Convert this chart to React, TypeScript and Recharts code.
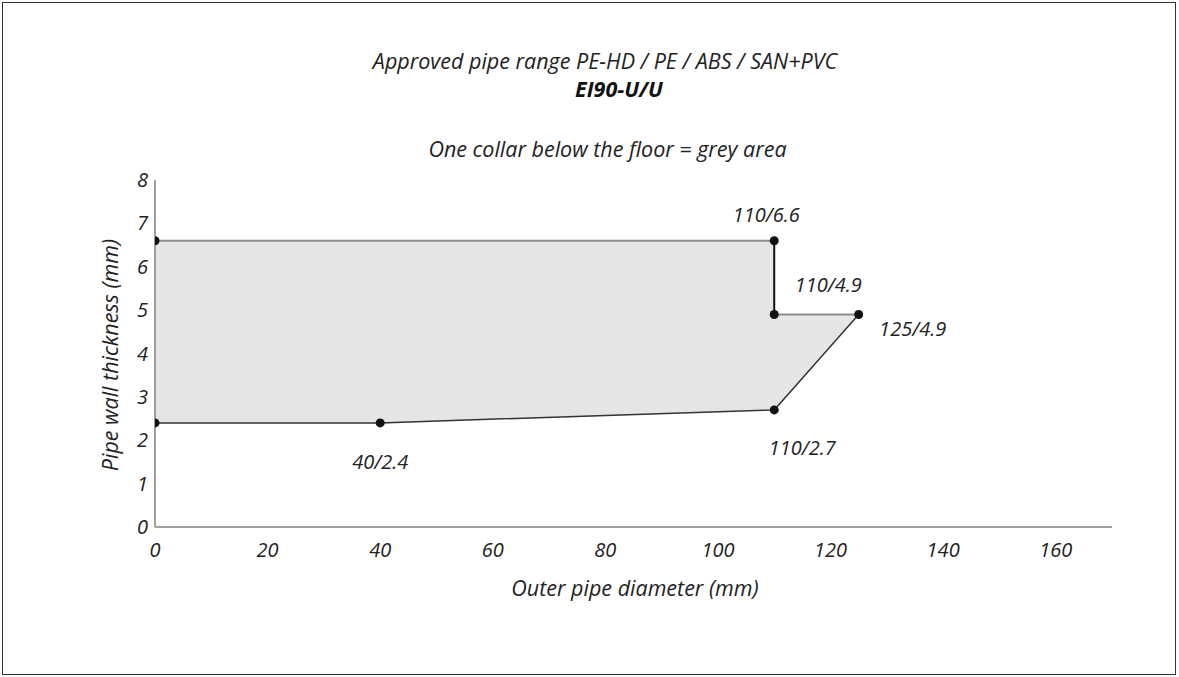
import React from "react";
import { ComposedChart, Area, Scatter, XAxis, YAxis } from "recharts";

// Area outline (outer diameter, low/high wall thickness)
const areaX = [0, 40, 110, 110, 125];
const areaLow = [2.4, 2.4, 2.7, 2.7, 4.9];
const areaHigh = [6.6, 6.6, 6.6, 4.9, 4.9];

// Marked points
const pointX = [0, 0, 40, 110, 110, 125, 110];
const pointY = [6.6, 2.4, 2.4, 2.7, 4.9, 4.9, 6.6];
const pointLabels = ["", "", "40/2.4", "110/2.7", "110/4.9", "125/4.9", "110/6.6"];

// Edges
const greyTopX = [0, 110];
const greyTopY = [6.6, 6.6];
const greyStepX = [110, 125];
const greyStepY = [4.9, 4.9];
const darkVertX = [110, 110];
const darkVertY = [6.6, 4.9];
const darkBottomX = [125, 110, 40, 0];
const darkBottomY = [4.9, 2.7, 2.4, 2.4];

const xTicks = [0, 20, 40, 60, 80, 100, 120, 140, 160];
const yTicks = [0, 1, 2, 3, 4, 5, 6, 7, 8];

const areaData = areaX.map((x, i) => ({ x, range: [areaLow[i], areaHigh[i]] }));
const pointData = pointX.map((x, i) => ({ x, y: pointY[i], label: pointLabels[i] }));
const toPts = (xs: number[], ys: number[]) => xs.map((x, i) => ({ x, y: ys[i] }));

const FONT = "'Open Sans', 'Noto Sans', sans-serif";

const labelOffset: Record<string, [number, number]> = {
  "110/6.6": [-8, -19],
  "110/4.9": [54, -22],
  "125/4.9": [54, 22],
  "110/2.7": [28, 45],
  "40/2.4": [0, 46],
};

const Dot = (props: any) => {
  const { cx, cy, payload } = props;
  const off = labelOffset[payload.label];
  return (
    <g>
      <circle cx={cx} cy={cy} r={4.5} fill="#111" />
      {off && (
        <text
          x={cx + off[0]}
          y={cy + off[1]}
          textAnchor="middle"
          fontFamily={FONT}
          fontStyle="italic"
          fontSize={20}
          fill="#222"
        >
          {payload.label}
        </text>
      )}
    </g>
  );
};

const NoDot = () => <g />;

const txt: React.CSSProperties = {
  position: "absolute",
  left: 0,
  textAlign: "center",
  fontSize: 21.5,
  fontStyle: "italic",
  color: "#222",
  lineHeight: "28px",
};

export default function App() {
  return (
    <div
      style={{
        position: "absolute",
        left: 0,
        top: 0,
        width: 1179,
        height: 677,
        background: "#fff",
        fontFamily: FONT,
      }}
    >
      <div
        style={{
          position: "absolute",
          left: 2,
          top: 2,
          width: 1172,
          height: 671,
          border: "1.5px solid #333",
        }}
      />
      <div style={{ ...txt, width: 1210, top: 47 }}>
        Approved pipe range PE-HD / PE / ABS / SAN+PVC
      </div>
      <div style={{ ...txt, width: 1238, top: 75, fontWeight: 700, color: "#111" }}>
        EI90-U/U
      </div>
      <div style={{ ...txt, width: 1215, top: 135 }}>
        One collar below the floor = grey area
      </div>
      <div style={{ ...txt, width: 1270, top: 574 }}>
        Outer pipe diameter (mm)
      </div>
      <div
        style={{
          position: "absolute",
          left: 110,
          top: 355,
          transform: "translate(-50%, -50%) rotate(-90deg)",
          whiteSpace: "nowrap",
          fontSize: 21.5,
          fontStyle: "italic",
          color: "#222",
          lineHeight: "28px",
        }}
      >
        Pipe wall thickness (mm)
      </div>
      <div style={{ position: "absolute", left: 0, top: 0 }}>
        <ComposedChart
          width={1179}
          height={677}
          data={areaData}
          margin={{ top: 180, left: 95, right: 67, bottom: 120 }}
        >
          <XAxis
            type="number"
            dataKey="x"
            domain={[0, 170]}
            ticks={xTicks}
            interval={0}
            tickLine={false}
            tickSize={0}
            axisLine={{ stroke: "#a0a0a0", strokeWidth: 2 }}
            height={30}
            tickMargin={16}
            tick={{ fontFamily: FONT, fontStyle: "italic", fontSize: 20, fill: "#222" }}
            allowDataOverflow
          />
          <YAxis
            type="number"
            dataKey="y"
            domain={[0, 8]}
            ticks={yTicks}
            interval={0}
            tickLine={false}
            tickSize={0}
            axisLine={{ stroke: "#a0a0a0", strokeWidth: 2 }}
            width={60}
            tickMargin={7}
            tick={{ fontFamily: FONT, fontStyle: "italic", fontSize: 20, fill: "#222" }}
            allowDataOverflow
          />
          <Area
            type="linear"
            dataKey="range"
            fill="#e5e5e5"
            fillOpacity={1}
            stroke="none"
            isAnimationActive={false}
            dot={false}
            activeDot={false}
          />
          <Scatter data={toPts(greyTopX, greyTopY)} dataKey="y" line={{ stroke: "#8c8c8c", strokeWidth: 2 }} shape={NoDot} isAnimationActive={false} />
          <Scatter data={toPts(greyStepX, greyStepY)} dataKey="y" line={{ stroke: "#8c8c8c", strokeWidth: 2 }} shape={NoDot} isAnimationActive={false} />
          <Scatter data={toPts(darkVertX, darkVertY)} dataKey="y" line={{ stroke: "#111", strokeWidth: 2 }} shape={NoDot} isAnimationActive={false} />
          <Scatter data={toPts(darkBottomX, darkBottomY)} dataKey="y" line={{ stroke: "#333", strokeWidth: 1.5 }} shape={NoDot} isAnimationActive={false} />
          <Scatter data={pointData} dataKey="y" shape={Dot} isAnimationActive={false} />
        </ComposedChart>
      </div>
    </div>
  );
}
